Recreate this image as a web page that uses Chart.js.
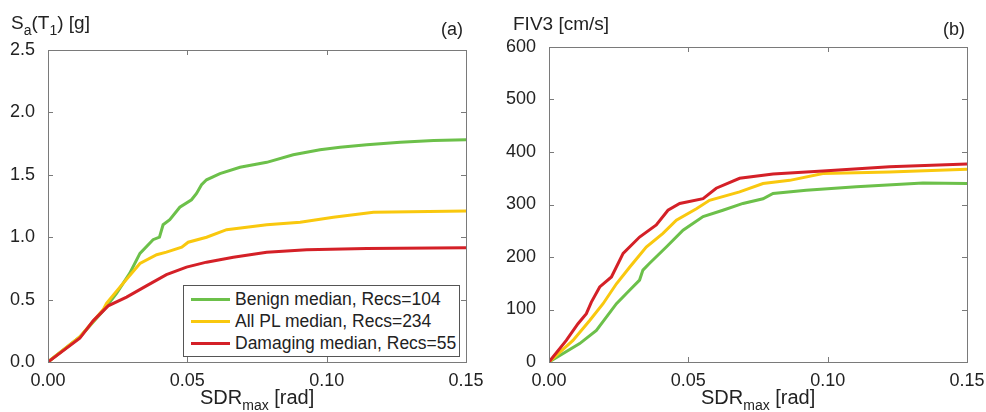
<!DOCTYPE html>
<html>
<head>
<meta charset="utf-8">
<script src="https://cdn.jsdelivr.net/npm/chart.js@4.4.1/dist/chart.umd.min.js"></script>
<style>
  html, body { margin: 0; padding: 0; background: #fff; }
  body { width: 986px; height: 412px; position: relative; overflow: hidden;
         font-family: "Liberation Sans", Arial, sans-serif; color: #222; }
  .pane { position: absolute; top: 0; height: 412px; }
  .lbl { position: absolute; white-space: nowrap; font-size: 19px; line-height: 1; }
  .lbl sub { font-size: 14px; vertical-align: -6px; line-height: 0; }
  .legend { position: absolute; left: 183px; top: 285px; width: 277px; height: 72px;
            border: 1px solid #555; background: #fff; box-sizing: border-box; font-size: 17.5px; }
  .legend div { position: absolute; left: 7px; height: 22px; line-height: 22px; white-space: nowrap; }
  .legend span.sw { display: inline-block; width: 39px; height: 3px; vertical-align: middle;
                    margin-right: 5px; position: relative; top: -1px; }
</style>
</head>
<body>
<div class="pane" style="left:0;width:490px"><canvas id="ca"></canvas></div>
<div class="pane" style="left:490px;width:496px"><canvas id="cb"></canvas></div>

<div class="lbl" style="left:11px;top:13px">S<sub>a</sub>(T<sub>1</sub>) [g]</div>
<div class="lbl" style="left:441px;top:20px;font-size:18px">(a)</div>
<div class="lbl" style="left:200px;top:387px;font-size:20px">SDR<sub>max</sub> [rad]</div>

<div class="lbl" style="left:513px;top:14px">FIV3 [cm/s]</div>
<div class="lbl" style="left:943px;top:20px;font-size:18px">(b)</div>
<div class="lbl" style="left:701px;top:387px;font-size:20px">SDR<sub>max</sub> [rad]</div>

<div class="legend">
  <div style="top:2px"><span class="sw" style="background:#6cc04a"></span>Benign median, Recs=104</div>
  <div style="top:24px"><span class="sw" style="background:#f9c80e"></span>All PL median, Recs=234</div>
  <div style="top:46px"><span class="sw" style="background:#d42027"></span>Damaging median, Recs=55</div>
</div>

<script>
// series names and colours
const names = ['Benign median, Recs=104', 'All PL median, Recs=234', 'Damaging median, Recs=55'];
const colors = ['#6cc04a', '#f9c80e', '#d42027'];

// x ticks (SDRmax, rad)
const xTicks = [0, 0.05, 0.10, 0.15];
const yTicksA = [0, 0.5, 1.0, 1.5, 2.0, 2.5];
const yTicksB = [0, 100, 200, 300, 400, 500, 600];

// panel (a): Sa(T1) [g] vs SDRmax
const benignSdrA = [0, 0.0114, 0.0198, 0.0246, 0.0293, 0.033, 0.0377, 0.040, 0.0413, 0.0437, 0.0473, 0.0515, 0.0533, 0.0551, 0.0569, 0.0617, 0.0689, 0.0785, 0.088, 0.0976, 0.1048, 0.1144, 0.1264, 0.1384, 0.15];
const benignSa = [0, 0.20, 0.41, 0.55, 0.71, 0.87, 0.98, 1.00, 1.10, 1.14, 1.24, 1.30, 1.35, 1.42, 1.46, 1.51, 1.56, 1.60, 1.66, 1.70, 1.72, 1.74, 1.76, 1.775, 1.78];
const allSdrA = [0, 0.0114, 0.0198, 0.021, 0.0258, 0.033, 0.039, 0.0425, 0.048, 0.0503, 0.0569, 0.0641, 0.0785, 0.0905, 0.1024, 0.1168, 0.15];
const allSa = [0, 0.20, 0.42, 0.47, 0.60, 0.79, 0.86, 0.88, 0.92, 0.96, 1.00, 1.06, 1.10, 1.12, 1.16, 1.20, 1.21];
const damSdrA = [0, 0.0114, 0.0162, 0.0216, 0.0282, 0.0353, 0.0425, 0.0497, 0.0569, 0.0665, 0.0785, 0.0928, 0.1144, 0.15];
const damSa = [0, 0.19, 0.33, 0.45, 0.52, 0.61, 0.70, 0.76, 0.80, 0.84, 0.88, 0.90, 0.91, 0.915];

// panel (b): FIV3 [cm/s] vs SDRmax
const benignSdrB = [0, 0.011, 0.017, 0.0242, 0.029, 0.0325, 0.0337, 0.0361, 0.0421, 0.0481, 0.0553, 0.0624, 0.0696, 0.0768, 0.0804, 0.0923, 0.1103, 0.1342, 0.15];
const benignFiv = [0, 35, 60, 111, 137, 156, 175, 188, 219, 251, 277, 289, 302, 311, 321, 327, 334, 341, 340];
const allSdrB = [0, 0.0086, 0.0146, 0.0194, 0.0242, 0.029, 0.0349, 0.0409, 0.0457, 0.0529, 0.0576, 0.0684, 0.0768, 0.0864, 0.0983, 0.1222, 0.15];
const allFiv = [0, 41, 79, 111, 149, 181, 219, 245, 270, 292, 308, 324, 340, 346, 359, 362, 367];
const damSdrB = [0, 0.0062, 0.0104, 0.0134, 0.0152, 0.0182, 0.0224, 0.0266, 0.0325, 0.0385, 0.0427, 0.0469, 0.0553, 0.0600, 0.0684, 0.0804, 0.0983, 0.1222, 0.15];
const damFiv = [0, 41, 73, 92, 114, 143, 162, 207, 238, 261, 289, 302, 311, 331, 350, 358, 364, 372, 377];

const pts = (xs, ys) => xs.map((x, i) => ({ x: x, y: ys[i] }));

// box round the plot area + small inward tick marks (MATLAB look)
const boxPlugin = {
  id: 'box',
  afterDatasetsDraw(chart) {
    const { ctx, chartArea: a, scales } = chart;
    ctx.save();
    ctx.strokeStyle = '#7a7a7a';
    ctx.lineWidth = 1;
    ctx.strokeRect(a.left + 0.5, a.top + 0.5, a.right - a.left, a.bottom - a.top);
    const L = 5;
    ctx.beginPath();
    scales.x.ticks.forEach(t => {
      const px = Math.round(scales.x.getPixelForValue(t.value)) + 0.5;
      ctx.moveTo(px, a.top); ctx.lineTo(px, a.top + L);
      ctx.moveTo(px, a.bottom); ctx.lineTo(px, a.bottom - L);
    });
    scales.y.ticks.forEach(t => {
      const py = Math.round(scales.y.getPixelForValue(t.value)) + 0.5;
      ctx.moveTo(a.left, py); ctx.lineTo(a.left + L, py);
      ctx.moveTo(a.right, py); ctx.lineTo(a.right - L, py);
    });
    ctx.stroke();
    ctx.restore();
  }
};

function makeChart(id, sets, yTicks, yMax, yDec, yW, pad) {
  const dsets = sets.map((s, i) => ({
    label: names[i],
    data: s,
    borderColor: colors[i],
    borderWidth: 3,
    pointRadius: 0,
    tension: 0,
    fill: false
  }));
  // red on top, green below (draw order like the original)
  dsets[0].order = 3; dsets[1].order = 2; dsets[2].order = 1;
  return new Chart(document.getElementById(id), {
    type: 'line',
    data: { datasets: dsets },
    options: {
      responsive: true,
      maintainAspectRatio: false,
      animation: false,
      layout: { padding: pad },
      plugins: { legend: { display: false }, tooltip: { enabled: false } },
      scales: {
        x: {
          type: 'linear', min: 0, max: 0.15,
          afterBuildTicks: s => { s.ticks = xTicks.map(v => ({ value: v })); },
          afterFit: s => { s.height = 50; },
          grid: { display: false },
          border: { display: false },
          ticks: {
            padding: 0,
            color: '#222',
            font: { family: 'Liberation Sans', size: 18 },
            callback: v => v.toFixed(2),
            maxRotation: 0
          }
        },
        y: {
          type: 'linear', min: 0, max: yMax,
          afterBuildTicks: s => { s.ticks = yTicks.map(v => ({ value: v })); },
          afterFit: s => { s.width = yW; },
          grid: { display: false },
          border: { display: false },
          ticks: {
            padding: 5,
            color: '#222',
            font: { family: 'Liberation Sans', size: 18 },
            callback: v => v.toFixed(yDec)
          }
        }
      }
    },
    plugins: [boxPlugin]
  });
}

makeChart('ca',
  [pts(benignSdrA, benignSa), pts(allSdrA, allSa), pts(damSdrA, damSa)],
  yTicksA, 2.5, 1, 48, { left: 0, top: 50, right: 24, bottom: 0 });
makeChart('cb',
  [pts(benignSdrB, benignFiv), pts(allSdrB, allFiv), pts(damSdrB, damFiv)],
  yTicksB, 600, 0, 59, { left: 0, top: 47, right: 19, bottom: 0 });
</script>
</body>
</html>
